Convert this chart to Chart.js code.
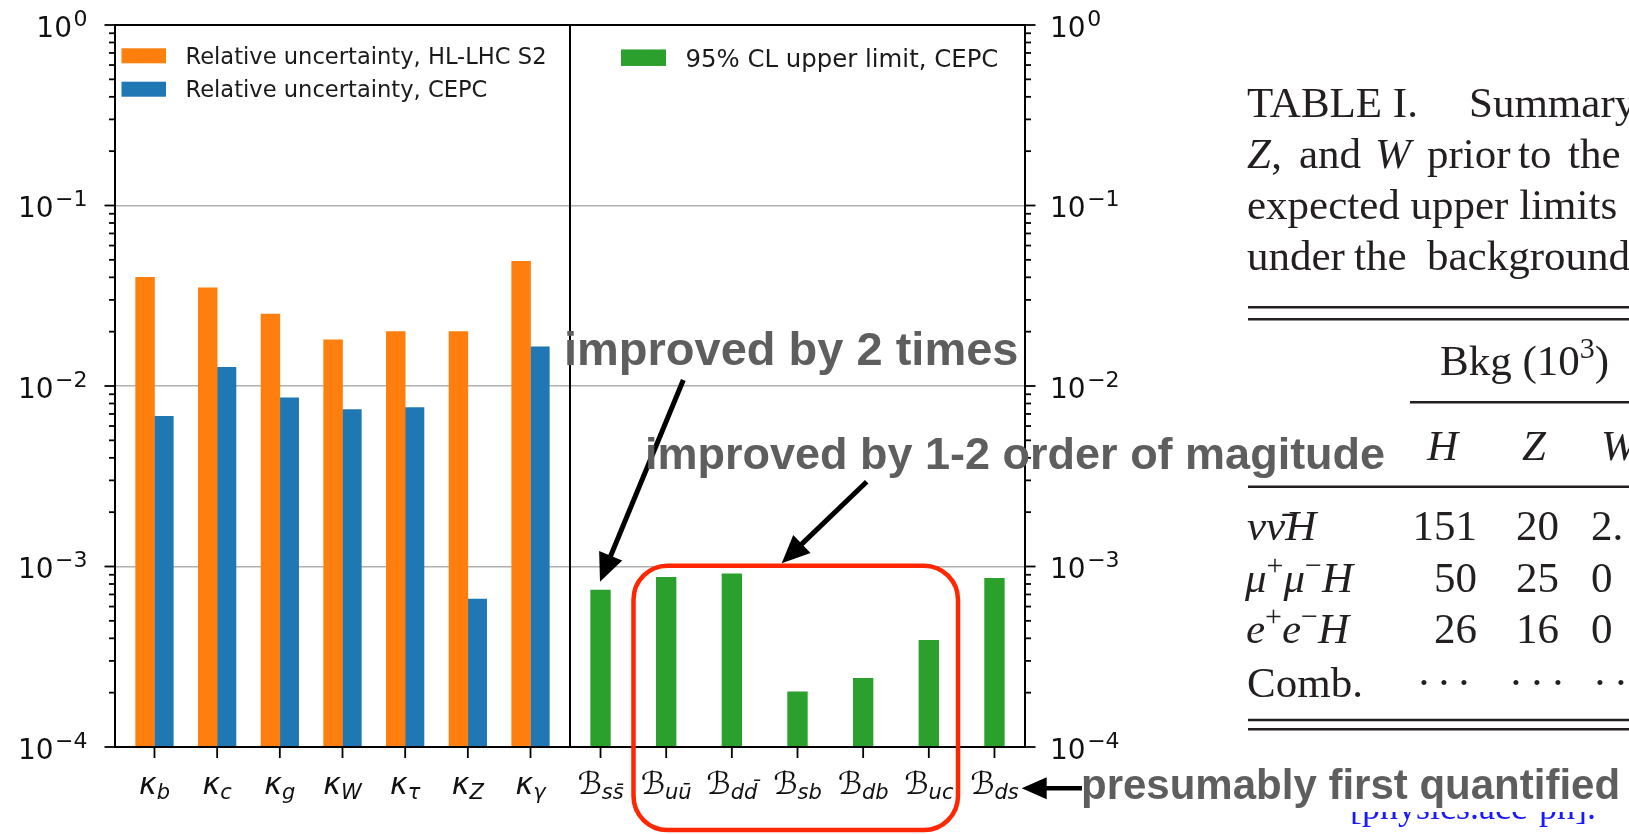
<!DOCTYPE html>
<html>
<head>
<meta charset="utf-8">
<script src="https://cdn.jsdelivr.net/npm/chart.js@4.4.1/dist/chart.umd.min.js"></script>
<style>
html, body { margin: 0; padding: 0; background: #fff; overflow: hidden; }
canvas { display: block; }
</style>
</head>
<body>
<canvas id="c" width="1629" height="834"></canvas>
<script>
// ---- data ----
const kappaSubs = ['b', 'c', 'g', 'W', 'τ', 'Z', 'γ'];
const hlLhcS2 = [0.04, 0.035, 0.025, 0.018, 0.02, 0.02, 0.049];
const cepcKappa = [0.0068, 0.0127, 0.0086, 0.0074, 0.0076, 0.00066, 0.0165];
const brSubs = ['ss\u0304', 'uu\u0304', 'dd\u0304', 'sb', 'db', 'uc', 'ds'];
const cepcUpperLimit = [0.00074, 0.00087, 0.00091, 0.000202, 0.00024, 0.00039, 0.00086];
const decadeExps = [0, -1, -2, -3, -4];
const seriesLabels = [
  'Relative uncertainty, HL-LHC S2',
  'Relative uncertainty, CEPC',
  '95% CL upper limit, CEPC'
];

// ---- layout ----
const PAD = { left: 115, right: 604, top: 25, bottom: 87 };
// the x axis runs 0..2: panel one holds the kappas, panel two the branching ratios
const LEFT_LIM = [-0.48, 6.78];
const RIGHT_LIM = [-0.465, 6.465];
const leftX = u => (u - LEFT_LIM[0]) / (LEFT_LIM[1] - LEFT_LIM[0]);
const rightX = u => 1 + (u - RIGHT_LIM[0]) / (RIGHT_LIM[1] - RIGHT_LIM[0]);
const BAR_W = 0.3;

const COLORS = ['#ff7f0e', '#1f77b4', '#2ca02c'];
const GRAY = '#5e5e5e';
const INK = '#231f20';

function isDecade(v) {
  if (!v) return false;
  const l = Math.log10(v);
  return Math.abs(l - Math.round(l)) < 1e-9;
}
function logTicks(scale) {
  const t = [];
  const lo = Math.min(...decadeExps), hi = Math.max(...decadeExps);
  for (let e = lo; e < hi; e++) {
    for (let m = 1; m <= 9; m++) t.push({ value: m * Math.pow(10, e) });
  }
  t.push({ value: Math.pow(10, hi) });
  scale.ticks = t;
}

// ---- drawing helpers ----
function supLabel(ctx, x, y, align, exp) {
  const big = '28px "DejaVu Sans"', small = '22px "DejaVu Sans"';
  const e = (exp < 0 ? '\u2212' : '') + Math.abs(exp);
  ctx.font = big; const w1 = ctx.measureText('10').width;
  ctx.font = small; const w2 = ctx.measureText(e).width;
  const x0 = align === 'right' ? x - (w1 + 1.5 + w2) : x;
  ctx.textAlign = 'left';
  ctx.font = big; ctx.fillText('10', x0, y + 11.5);
  ctx.font = small; ctx.fillText(e, x0 + w1 + 1.5, y + 0.8);
}
function subLabel(ctx, cx, base, main, mainFont, sub, subFont) {
  ctx.font = mainFont; const w1 = ctx.measureText(main).width;
  ctx.font = subFont; const w2 = ctx.measureText(sub).width;
  const x0 = cx - (w1 + w2) / 2;
  ctx.textAlign = 'left';
  ctx.font = mainFont; ctx.fillText(main, x0, base);
  ctx.font = subFont; ctx.fillText(sub, x0 + w1, base + 5);
}
function runs(ctx, x, y, parts) {
  ctx.textAlign = 'left';
  for (const p of parts) {
    ctx.font = p.f;
    ctx.fillText(p.t, x, y + (p.dy || 0));
    x += ctx.measureText(p.t).width + (p.gap || 0);
  }
  return x;
}
function arrow(ctx, x1, y1, x2, y2, lw, hl, hw) {
  const a = Math.atan2(y2 - y1, x2 - x1);
  const bx = x2 - hl * Math.cos(a), by = y2 - hl * Math.sin(a);
  ctx.lineWidth = lw; ctx.lineCap = 'butt';
  ctx.beginPath(); ctx.moveTo(x1, y1); ctx.lineTo(bx + Math.cos(a), by + Math.sin(a)); ctx.stroke();
  ctx.beginPath();
  ctx.moveTo(x2, y2);
  ctx.lineTo(bx + hw * Math.sin(a), by - hw * Math.cos(a));
  ctx.lineTo(bx - hw * Math.sin(a), by + hw * Math.cos(a));
  ctx.closePath(); ctx.fill();
}
function hline(ctx, x1, x2, y, lw) {
  ctx.lineWidth = lw; ctx.beginPath(); ctx.moveTo(x1, y); ctx.lineTo(x2, y); ctx.stroke();
}

// ---- axes frame, labels, legends ----
const framePlugin = {
  id: 'frame',
  afterDraw(chart) {
    const ctx = chart.ctx;
    const a = chart.chartArea;
    const xs = chart.scales.x, ys = chart.scales.y, ys2 = chart.scales.y2;
    ctx.save();
    ctx.strokeStyle = '#000'; ctx.fillStyle = '#000';
    ctx.lineWidth = 2;
    ctx.strokeRect(a.left, a.top, a.right - a.left, a.bottom - a.top);
    const xd = xs.getPixelForValue(1);
    ctx.beginPath(); ctx.moveTo(xd, a.top); ctx.lineTo(xd, a.bottom); ctx.stroke();

    // y ticks, outward on both sides
    ctx.lineWidth = 1.8;
    for (const t of ys.ticks) {
      const py = ys.getPixelForValue(t.value);
      const len = isDecade(t.value) ? 10.5 : 6;
      ctx.beginPath(); ctx.moveTo(a.left - len, py); ctx.lineTo(a.left, py); ctx.stroke();
    }
    for (const t of ys2.ticks) {
      const py = ys2.getPixelForValue(t.value);
      const len = isDecade(t.value) ? 10.5 : 6;
      ctx.beginPath(); ctx.moveTo(a.right, py); ctx.lineTo(a.right + len, py); ctx.stroke();
    }
    ctx.fillStyle = '#111';
    for (const e of decadeExps) {
      supLabel(ctx, a.left - 27.5, ys.getPixelForValue(Math.pow(10, e)), 'right', e);
      supLabel(ctx, a.right + 25, ys2.getPixelForValue(Math.pow(10, e)), 'left', e);
    }

    // x ticks and labels
    const kTicks = kappaSubs.map((s, i) => xs.getPixelForValue(leftX(i + BAR_W / 2)));
    const bTicks = brSubs.map((s, j) => xs.getPixelForValue(rightX(j)));
    ctx.lineWidth = 1.8;
    for (const px of kTicks.concat(bTicks)) {
      ctx.beginPath(); ctx.moveTo(px, a.bottom); ctx.lineTo(px, a.bottom + 11); ctx.stroke();
    }
    kappaSubs.forEach((s, i) => subLabel(ctx, kTicks[i], a.bottom + 47,
      'κ', 'italic 30px "DejaVu Sans"', s, 'italic 21px "DejaVu Sans"'));
    brSubs.forEach((s, j) => subLabel(ctx, bTicks[j], a.bottom + 47,
      '\u212C', '31px "DejaVu Sans"', s, 'italic 21px "DejaVu Sans"'));

    // legends
    const ds = chart.data.datasets;
    const legend = (i, px, cy, pw, ph, font, size) => {
      ctx.fillStyle = ds[i].backgroundColor;
      ctx.fillRect(px, cy - ph / 2, pw, ph);
      ctx.fillStyle = '#1a1a1a';
      ctx.font = font; ctx.textAlign = 'left';
      ctx.fillText(ds[i].label, px + pw + 19.5, cy + 0.729 * size / 2);
    };
    legend(0, a.left + 6.5, 55.8, 44.5, 15, '22.6px "DejaVu Sans"', 22.6);
    legend(1, a.left + 6.5, 89.2, 44.5, 15, '22.6px "DejaVu Sans"', 22.6);
    legend(2, xd + 51, 57.7, 45, 16.5, '24.4px "DejaVu Sans"', 24.4);
    ctx.restore();

    drawPage(ctx, a);
  }
};

// ---- table excerpt and notes beside the chart ----
function drawPage(ctx, a) {
  ctx.save();
  const serif = '43px "Liberation Serif"';
  const serifI = 'italic 43px "Liberation Serif"';
  const serifS = '30px "Liberation Serif"';
  ctx.fillStyle = INK; ctx.strokeStyle = INK; ctx.textAlign = 'left';
  ctx.font = serif;
  ctx.fillText('TABLE I.', 1247, 117);
  ctx.fillText('Summary of the', 1469, 117);
  ctx.font = serifI; ctx.fillText('Z', 1247, 168);
  ctx.font = serif; ctx.fillText(',', 1247 + ctx.measureText('Z').width - 2, 168);
  ctx.fillText('and', 1299, 168);
  ctx.font = serifI; ctx.fillText('W', 1375, 168);
  ctx.font = serif;
  ctx.fillText('prior', 1427, 168);
  ctx.fillText('to', 1518, 168);
  ctx.fillText('the', 1568, 168);
  ctx.fillText('expected upper limits for', 1247, 219);
  ctx.fillText('under', 1247, 270);
  ctx.fillText('the', 1354, 270);
  ctx.fillText('background', 1427, 270);

  hline(ctx, 1248, 1629, 307.3, 2.5);
  hline(ctx, 1248, 1629, 319.3, 2.5);
  runs(ctx, 1440, 375, [{ t: 'Bkg (10', f: serif }, { t: '3', f: serifS, dy: -17 }, { t: ')', f: serif }]);
  hline(ctx, 1410, 1629, 402.3, 2.5);
  ctx.font = serifI;
  ctx.fillText('H', 1427, 460);
  ctx.fillText('Z', 1522, 460);
  ctx.fillText('W', 1601, 460);
  hline(ctx, 1248, 1629, 486.7, 2.5);

  runs(ctx, 1247, 540, [{ t: 'ν', f: serifI }, { t: 'ν\u0304', f: serifI }, { t: 'H', f: serifI }]);
  runs(ctx, 1245, 591.7, [{ t: 'μ', f: serifI }, { t: '+', f: serifS, dy: -17 }, { t: 'μ', f: serifI },
    { t: '\u2212', f: serifS, dy: -17 }, { t: 'H', f: serifI }]);
  runs(ctx, 1246, 643.3, [{ t: 'e', f: serifI }, { t: '+', f: serifS, dy: -17 }, { t: 'e', f: serifI },
    { t: '\u2212', f: serifS, dy: -17 }, { t: 'H', f: serifI }]);
  ctx.font = serif;
  ctx.fillText('Comb.', 1247, 696.7);
  ctx.textAlign = 'right';
  ctx.fillText('151', 1477, 540); ctx.fillText('20', 1559, 540);
  ctx.fillText('50', 1477, 591.7); ctx.fillText('25', 1559, 591.7);
  ctx.fillText('26', 1477, 643.3); ctx.fillText('16', 1559, 643.3);
  ctx.textAlign = 'left';
  ctx.fillText('2.', 1591, 540); ctx.fillText('0', 1591, 591.7); ctx.fillText('0', 1591, 643.3);
  ctx.textAlign = 'center';
  for (const cx of [1424, 1444, 1464, 1516, 1537, 1558, 1600, 1621]) ctx.fillText('\u00B7', cx, 696.7);
  hline(ctx, 1248, 1629, 720, 2.5);
  hline(ctx, 1248, 1629, 729.3, 2.5);

  ctx.textAlign = 'left';
  ctx.fillStyle = '#1a1aff';
  ctx.font = '36px "Liberation Serif"';
  ctx.fillText('[physics.acc-ph].', 1350, 819);
  ctx.fillStyle = '#fff';
  ctx.fillRect(1330, 762, 299, 50);

  // highlighted group of branching ratios
  ctx.strokeStyle = '#ff2600'; ctx.lineWidth = 4.5;
  ctx.beginPath(); ctx.roundRect(633.5, 565.7, 324.5, 264.3, 34); ctx.stroke();

  ctx.strokeStyle = '#000'; ctx.fillStyle = '#000';
  arrow(ctx, 683.3, 380, 600, 581.7, 5, 28, 12.5);
  arrow(ctx, 866.7, 481.7, 781.7, 563.3, 5, 28, 12.5);
  arrow(ctx, 1082, 788.3, 1021.7, 788.3, 4.5, 25, 11);

  ctx.fillStyle = GRAY; ctx.textAlign = 'left';
  ctx.font = 'bold 47px "Liberation Sans"';
  ctx.fillText('improved by 2 times', 564, 365);
  ctx.font = 'bold 45px "Liberation Sans"';
  ctx.fillText('improved by 1-2 order of magitude', 645, 469);
  ctx.font = 'bold 42px "Liberation Sans"';
  ctx.fillText('presumably first quantified', 1081, 799);
  ctx.restore();
}

// ---- chart ----
const barBase = { grouped: false, borderWidth: 0 };
new Chart(document.getElementById('c'), {
  type: 'bar',
  data: {
    datasets: [
      Object.assign({ label: seriesLabels[0], backgroundColor: COLORS[0], barThickness: 18.8,
        data: hlLhcS2.map((v, i) => ({ x: leftX(i), y: v })) }, barBase),
      Object.assign({ label: seriesLabels[1], backgroundColor: COLORS[1], barThickness: 18.8,
        data: cepcKappa.map((v, i) => ({ x: leftX(i + BAR_W), y: v })) }, barBase),
      Object.assign({ label: seriesLabels[2], backgroundColor: COLORS[2], barThickness: 19.7,
        data: cepcUpperLimit.map((v, j) => ({ x: rightX(j), y: v })) }, barBase)
    ]
  },
  options: {
    responsive: false,
    devicePixelRatio: 1,
    animation: false,
    events: [],
    layout: { padding: PAD },
    plugins: { legend: { display: false }, tooltip: { enabled: false } },
    scales: {
      x: { type: 'linear', min: 0, max: 2, offset: false, display: false },
      y: {
        type: 'logarithmic', position: 'left', min: 1e-4, max: 1,
        afterBuildTicks: logTicks,
        afterFit: s => { s.width = 0; },
        ticks: { display: false },
        border: { display: false },
        grid: {
          drawTicks: false, lineWidth: 1.6,
          color: c => (c.tick && isDecade(c.tick.value)) ? '#b0b0b0' : 'rgba(0,0,0,0)'
        }
      },
      y2: {
        type: 'logarithmic', position: 'right', min: 1e-4, max: 1,
        afterBuildTicks: logTicks,
        afterFit: s => { s.width = 0; },
        ticks: { display: false },
        border: { display: false },
        grid: { display: false }
      }
    }
  },
  plugins: [framePlugin]
});
</script>
</body>
</html>
